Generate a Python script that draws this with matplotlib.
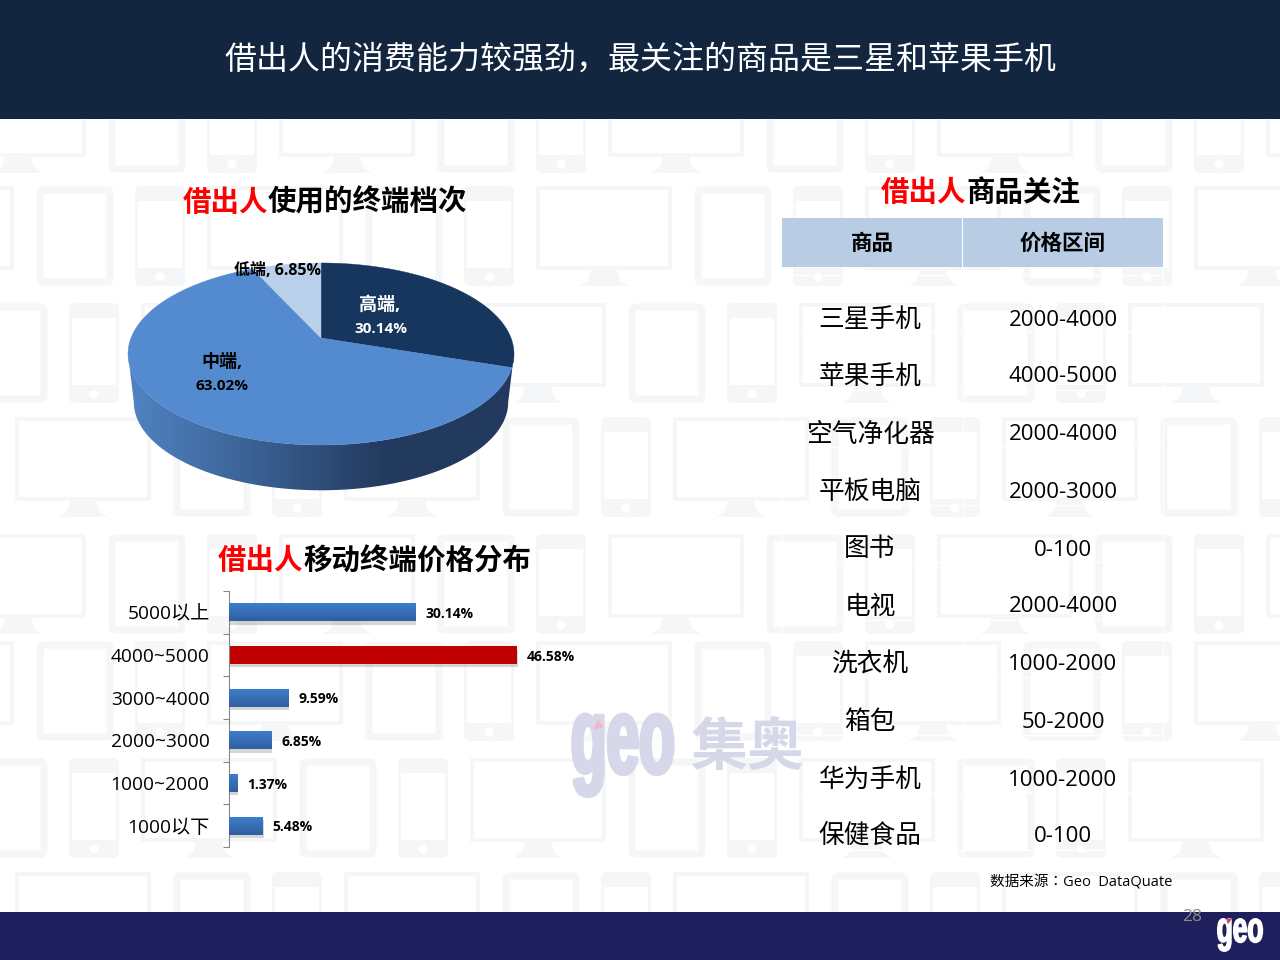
import numpy as np
import matplotlib
matplotlib.use("Agg")
import matplotlib.pyplot as plt
from matplotlib.patches import Polygon, Rectangle, FancyBboxPatch, Circle
from matplotlib.transforms import Affine2D
from matplotlib import patheffects as pe

plt.rcParams["font.family"] = ["Open Sans", "Noto Sans CJK SC", "DejaVu Sans"]

# pie data
pie_names = ["高端", "中端", "低端"]
pie_values = [30.14, 63.02, 6.85]
pie_colors = ["#17365d", "#548ad0", "#b9d0ea"]

# bar data
price_labels = ["5000以上", "4000~5000", "3000~4000", "2000~3000", "1000~2000", "1000以下"]
price_values = [30.14, 46.58, 9.59, 6.85, 1.37, 5.48]

# table data
goods = ["三星手机", "苹果手机", "空气净化器", "平板电脑", "图书",
         "电视", "洗衣机", "箱包", "华为手机", "保健食品"]
price_ranges = ["2000-4000", "4000-5000", "2000-4000", "2000-3000", "0-100",
                "2000-4000", "1000-2000", "50-2000", "1000-2000", "0-100"]

BG = "#f5f6f7"
W, H = 1280, 960

fig = plt.figure(figsize=(12.8, 9.6), dpi=100, facecolor="white")
ax = fig.add_axes([0, 0, 1, 1])
ax.set_axis_off()


class Squeeze(pe.AbstractPathEffect):
    """Narrow a text horizontally about a pixel column (no condensed font here)."""

    def __init__(self, sx, cx, lw=0):
        super().__init__()
        self.sx, self.cx, self.lw = sx, cx, lw

    def draw_path(self, renderer, gc, tpath, affine, rgbFace=None):
        a = affine + Affine2D().translate(-self.cx, 0).scale(self.sx, 1).translate(self.cx, 0)
        gc0 = renderer.new_gc()
        gc0.copy_properties(gc)
        gc0.set_foreground(rgbFace)
        gc0.set_linewidth(self.lw)
        renderer.draw_path(gc0, tpath, a, rgbFace)
        gc0.restore()


def monitor(x, y):
    ax.add_patch(Rectangle((x + 2, y + 2), 132, 80, fc="white", ec=BG, lw=2.8, zorder=1))
    ax.add_patch(Polygon([(x + 55, y + 84), (x + 81, y + 84), (x + 84, y + 94), (x + 92, y + 100),
                          (x + 44, y + 100), (x + 52, y + 94)], fc=BG, ec="none", zorder=1))


def tablet(x, y):
    ax.add_patch(FancyBboxPatch((x + 4, y + 4), 70, 92, boxstyle="round,pad=0,rounding_size=3",
                                fc="white", ec=BG, lw=5, zorder=1))


def phone(x, y):
    ax.add_patch(FancyBboxPatch((x, y), 50, 100, boxstyle="round,pad=0,rounding_size=6",
                                fc=BG, ec="none", zorder=1))
    ax.add_patch(Rectangle((x + 3, y + 15), 44, 67, fc="white", ec="none", zorder=1))
    ax.add_patch(Circle((x + 25, y + 91), 4.5, fc="white", ec="none", zorder=1))


# background devices, same strip repeats every 329 px
rows = [(73, -122), (186, -194), (303, -260), (417, -57),
        (534, -122), (641, -194), (758, -260), (872, -57)]
for top, x0 in rows:
    for k in range(6):
        x = x0 + k * 329
        phone(x, top)
        monitor(x + 72, top)
        tablet(x + 230, top)

# header and footer
ax.add_patch(Rectangle((0, 0), W, 119, fc="#12263f", ec="none", zorder=2))
ax.add_patch(Rectangle((0, 912), W, 48, fc="#201f5e", ec="none", zorder=2))
ax.text(640, 60.5, "借出人的消费能力较强劲，最关注的商品是三星和苹果手机", color="white",
        fontsize=23, ha="center", va="center", zorder=3)
ax.text(1192, 917, "28", color="#8b8b8b", fontsize=12.5, ha="center", va="center", zorder=3)
ax.text(1240, 931, "geo", color="white", fontsize=31, fontweight="bold", ha="center", va="center",
        family=["Liberation Sans"], zorder=3,
        path_effects=[Squeeze(0.61, 1240, lw=1.2)])
ax.add_patch(Polygon([(1226, 919), (1232, 919), (1228, 924)], fc="#c8456b", ec="none", zorder=4))


def title(x_red, x_black, y, rest):
    ax.text(x_red, y, "借出人", color="#ff0000", fontsize=20.5, fontweight="bold",
            ha="left", va="center", zorder=5)
    ax.text(x_black, y, rest, color="black", fontsize=20.5, fontweight="bold",
            ha="left", va="center", zorder=5)


title(183, 268, 203, "使用的终端档次")
title(218, 303, 562, "移动终端价格分布")
title(881, 966, 193, "商品关注")

# watermark
ax.text(675, 745, "geo", color="#d6d7e8", fontsize=78, fontweight="bold", ha="right", va="center",
        family=["Liberation Sans"], zorder=3,
        path_effects=[Squeeze(0.54, 675, lw=3)])
ax.add_patch(Polygon([(593, 730), (598, 720), (604, 727)], fc="#f4b6c8", ec="none", zorder=4))
ax.text(747, 750, "集奥", color="#d6d7e8", fontsize=41, fontweight="bold", ha="center", va="center", zorder=3)

# ---- pie, perspective projection of a circle
PX, PY, RX, A, B = 321.0, 338.0, 190.0, 88.2, 0.1758


def project(theta):
    u, v = np.sin(theta), np.cos(theta)
    d = 1 + B * v
    return PX + RX * u / d, PY - A * v / d


def lower(x, y):
    return PX + 0.97 * (x - PX), 354 + 0.97 * (y - 354) + 48


t = np.radians(np.linspace(100, 260, 200))
xs, ys = project(t)
bx, by = lower(xs, ys)
side = Polygon(np.r_[np.c_[xs, ys], np.c_[bx, by][::-1]], fc="none", ec="none", zorder=3)
ax.add_patch(side)
ramp = np.interp(np.linspace(129, 515, 256), [129, 250, 385, 515], [0, 0.45, 1, 1])
grad = np.outer(np.ones(2), ramp)
cmap = matplotlib.colors.LinearSegmentedColormap.from_list("rim", ["#5083c2", "#223a5e"])
im = ax.imshow(grad, extent=(129, 515, 495, 340), cmap=cmap, aspect="auto", zorder=3, vmin=0, vmax=1)
im.set_clip_path(side)

fracs = np.cumsum([0] + pie_values) / sum(pie_values) * 2 * np.pi
for a0, a1, c in zip(fracs[:-1], fracs[1:], pie_colors):
    sx, sy = project(np.linspace(a0, a1, 160))
    ax.add_patch(Polygon(np.r_[[[PX, PY]], np.c_[sx, sy]], fc=c, ec=c, lw=0.3, zorder=4))

ax.text(380, 305, f"{pie_names[0]},", color="white", fontsize=13, fontweight="bold", ha="center", va="center", zorder=5)
ax.text(381, 329, f"{pie_values[0]:.2f}%", color="white", fontsize=11, fontweight="bold", ha="center", va="center", zorder=5)
ax.text(222, 362, f"{pie_names[1]},", color="black", fontsize=13, fontweight="bold", ha="center", va="center", zorder=5)
ax.text(222, 386, f"{pie_values[1]:.2f}%", color="black", fontsize=11, fontweight="bold", ha="center", va="center", zorder=5)
ax.text(277, 271, f"{pie_names[2]}, {pie_values[2]:.2f}%", color="black", fontsize=11.5, fontweight="bold", ha="center", va="center", zorder=5)

# ---- table
for x0, x1, lab in [(782, 962, "商品"), (963, 1163, "价格区间")]:
    ax.add_patch(Rectangle((x0, 218), x1 - x0, 49, fc="#b8cce4", ec="none", zorder=4))
    ax.text((x0 + x1) / 2, 244.5, lab, fontsize=15.5, fontweight="bold", ha="center", va="center", zorder=5)
for x in (782, 962.5, 1163):
    ax.plot([x, x], [267, 864], color="white", lw=1, zorder=2)
for i in range(11):
    ax.plot([782, 1163], [274.5 + i * 57.5] * 2, color="white", lw=1, zorder=2)
row_y = [320, 377, 435, 492, 550, 607, 665, 722, 780, 837]
for y, g, p in zip(row_y, goods, price_ranges):
    ax.text(870, y, g, fontsize=18.5, ha="center", va="center", zorder=5)
    ax.text(1063, y, p, fontsize=16, ha="center", va="center", zorder=5)
ax.text(990, 883, "数据来源：Geo  DataQuate", fontsize=10.5, ha="left", va="center", zorder=5,
        family=["Open Sans", "Noto Sans CJK TC"])

ax.set_xlim(0, W)
ax.set_ylim(H, 0)

# ---- bars
bx0, bx1, by0, by1 = 229, 600, 591, 847
bar_ax = fig.add_axes([bx0 / W, 1 - by1 / H, (bx1 - bx0) / W, (by1 - by0) / H], zorder=6)
bar_ax.patch.set_alpha(0)
pos = np.arange(len(price_values))
colors = ["#c00000" if v == max(price_values) else "#3570b8" for v in price_values]
bars = bar_ax.barh(pos, price_values, height=0.42, color=colors, zorder=2,
                   path_effects=[pe.SimplePatchShadow(offset=(0.5, -2.5), shadow_rgbFace="#777777", alpha=0.3),
                                 pe.Normal()])
bar_cmap = matplotlib.colors.LinearSegmentedColormap.from_list("bar", ["#3d7ecb", "#2e5f9f"])
for b, v in zip(bars, price_values):
    if v != max(price_values):
        g = bar_ax.imshow(np.linspace(0, 1, 32)[:, None], extent=(0, v, b.get_y() + b.get_height(), b.get_y()),
                          cmap=bar_cmap, aspect="auto", zorder=3)
        g.set_clip_path(b)
    bar_ax.text(v + 1.6, b.get_y() + b.get_height() / 2 + 0.04, f"{v:.2f}%", fontsize=10, fontweight="bold",
                ha="left", va="center", zorder=4)
bar_ax.set_xlim(0, (bx1 - bx0) / 6.19)
bar_ax.set_ylim(5.5, -0.5)
bar_ax.set_yticks(pos)
bar_ax.set_yticklabels(price_labels, fontsize=13.8)
bar_ax.set_yticks(np.arange(-0.5, 6), minor=True)
bar_ax.tick_params(axis="y", which="major", length=0, pad=14)
bar_ax.tick_params(axis="y", which="minor", length=4.5, color="#888888", width=0.8)
bar_ax.xaxis.set_visible(False)
for s in ("top", "right", "bottom"):
    bar_ax.spines[s].set_visible(False)
bar_ax.spines["left"].set_color("#888888")
bar_ax.spines["left"].set_linewidth(0.8)

fig.savefig("out.png", dpi=100)
